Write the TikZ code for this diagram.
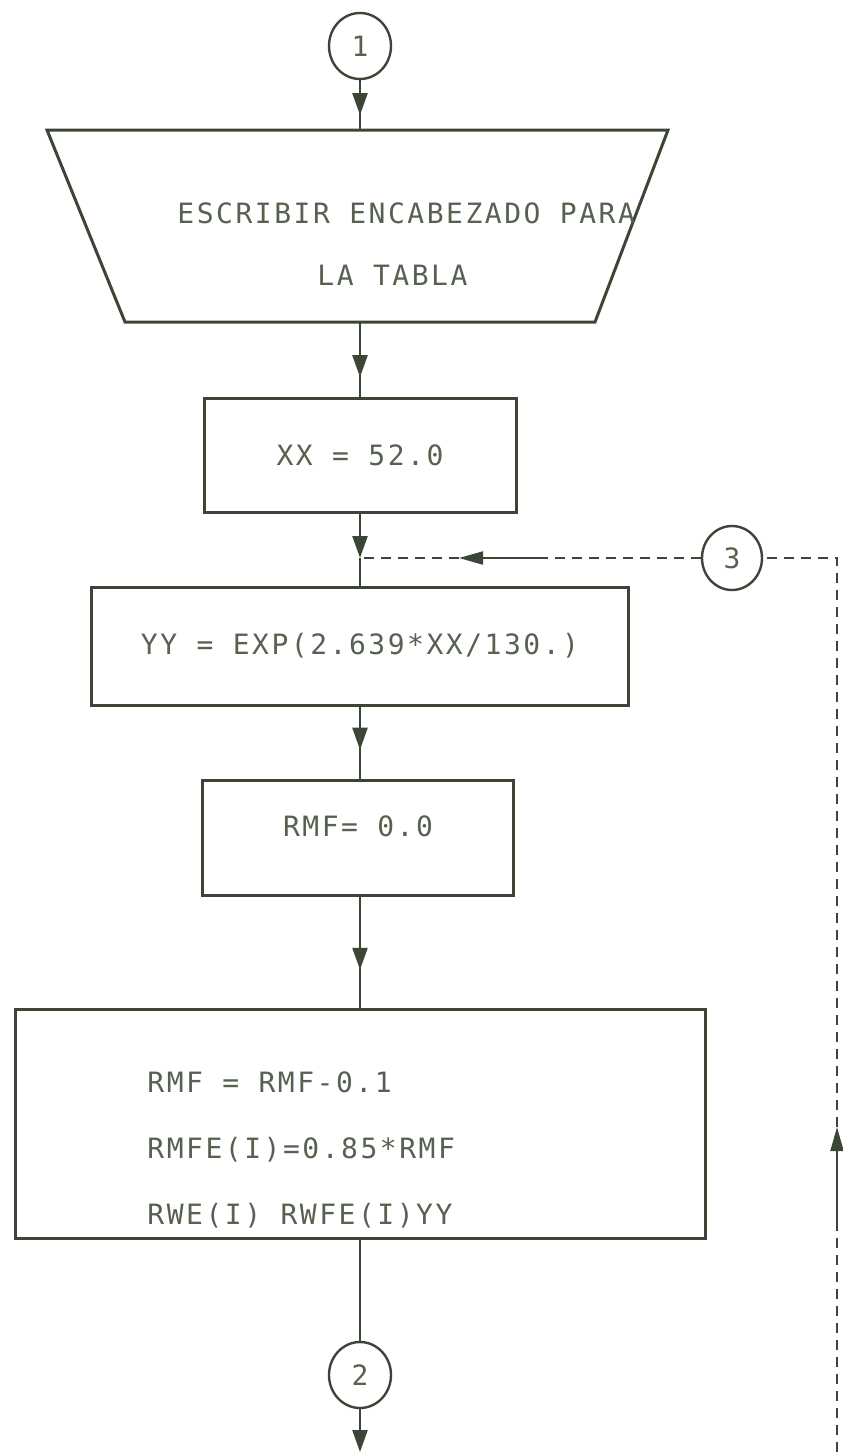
\documentclass[tikz,border=0pt]{standalone}
\usepackage{fontspec}
\newfontfamily\flowfont[LetterSpace=9]{DejaVu Sans Mono}
\usepackage{xcolor}
\usetikzlibrary{arrows.meta,positioning,shapes.geometric,decorations.markings}
\definecolor{ink}{HTML}{3B4637}
\definecolor{inktext}{HTML}{56614F}

\begin{document}
\begin{tikzpicture}[
    x=0.5pt, y=-0.5pt,
    proc/.style={draw=ink, line width=1.5pt, inner sep=0pt, font=\flowfont\fontsize{14}{17}\selectfont, text=inktext},
    conn/.style={draw=ink, ellipse, line width=1.2pt, minimum width=31pt, minimum height=33pt, inner sep=0pt, font=\flowfont\fontsize{14}{17}\selectfont, text=inktext},
    lbl/.style={inner sep=0pt, anchor=west, font=\flowfont\fontsize{14}{17}\selectfont, text=inktext},
    flow/.style={draw=ink, line width=1.2pt},
    back/.style={draw=ink, line width=1pt, dash pattern=on 5pt off 3.5pt},
    >={Triangle[length=11pt,width=7.5pt]},
    backtip/.style={draw=ink, line width=1pt, -{Triangle[length=12pt,width=6.5pt]}},
    midarr/.style={postaction={decorate}, decoration={markings, mark=at position #1 with {\arrow{Triangle[length=11pt,width=7.5pt]}}}}
]
\useasboundingbox (0,0) rectangle (842,1452);

\node[conn] (c1) at (360,46) {1};
% output trapezoid
\draw[proc, line join=miter] (47,130) -- (668,130) -- (595,322) -- (125,322) -- cycle;
\coordinate (trapn) at (360,130);
\coordinate (traps) at (360,322);
\node[lbl] (head1) at (177,213) {ESCRIBIR ENCABEZADO PARA};
\node[lbl] (head2) at (317,275) {LA TABLA};
\node[proc, minimum width=156pt, minimum height=57pt] (xx) at (360,455) {XX = 52.0};
\coordinate (jn) at (360,558);
\node[proc, minimum width=268.5pt, minimum height=59pt] (yy) at (360,646) {YY = EXP(2.639*XX/130.)};
\node[proc, minimum width=155.5pt, minimum height=57.5pt, text height=10pt, text depth=11.5pt] (rmf) at (358,837.5) {RMF= 0.0};
\node[proc, minimum width=345pt, minimum height=114.5pt] (loop) at (360,1123.5) {};
\node[lbl, align=left] (looptxt) at (147,1150) {RMF = RMF-0.1\\[16pt]RMFE(I)=0.85*RMF\\[16pt]RWE(I) RWFE(I)YY};
\node[conn] (c2) at (360,1375) {2};
\coordinate (out) at (360,1452);
\node[conn, minimum width=30pt, minimum height=32pt] (c3) at (732,558) {3};

% main column
\draw[flow, midarr=0.7] (c1.south) -- (trapn);
\draw[flow, midarr=0.74] (traps) -- (xx.north);
\draw[flow, ->] (xx.south) -- (jn);
\draw[flow] (jn) -- (yy.north);
\draw[flow, midarr=0.6] (yy.south) -- (yy.south |- rmf.north);
\draw[flow, midarr=0.66] (rmf.south -| loop.north) -- (loop.north);
\draw[flow] (loop.south) -- (c2.north);
\draw[flow, ->] (c2.south) -- (out);

% return path through 3
\coordinate (rin) at (837,1452);
\coordinate (ra) at (837,1230);
\coordinate (rb) at (837,1127);
\coordinate (rc) at (837,558);
\coordinate (ta) at (547,558);
\coordinate (tb) at (459,558);
\draw[back] (rin) -- (ra);
\draw[backtip] (ra) -- (rb);
\draw[back] (rb) -- (rc) -- (c3.east);
\draw[back] (c3.west) -- (ta);
\draw[backtip] (ta) -- (tb);
\draw[back] (tb) -- (jn);
\end{tikzpicture}
\end{document}
